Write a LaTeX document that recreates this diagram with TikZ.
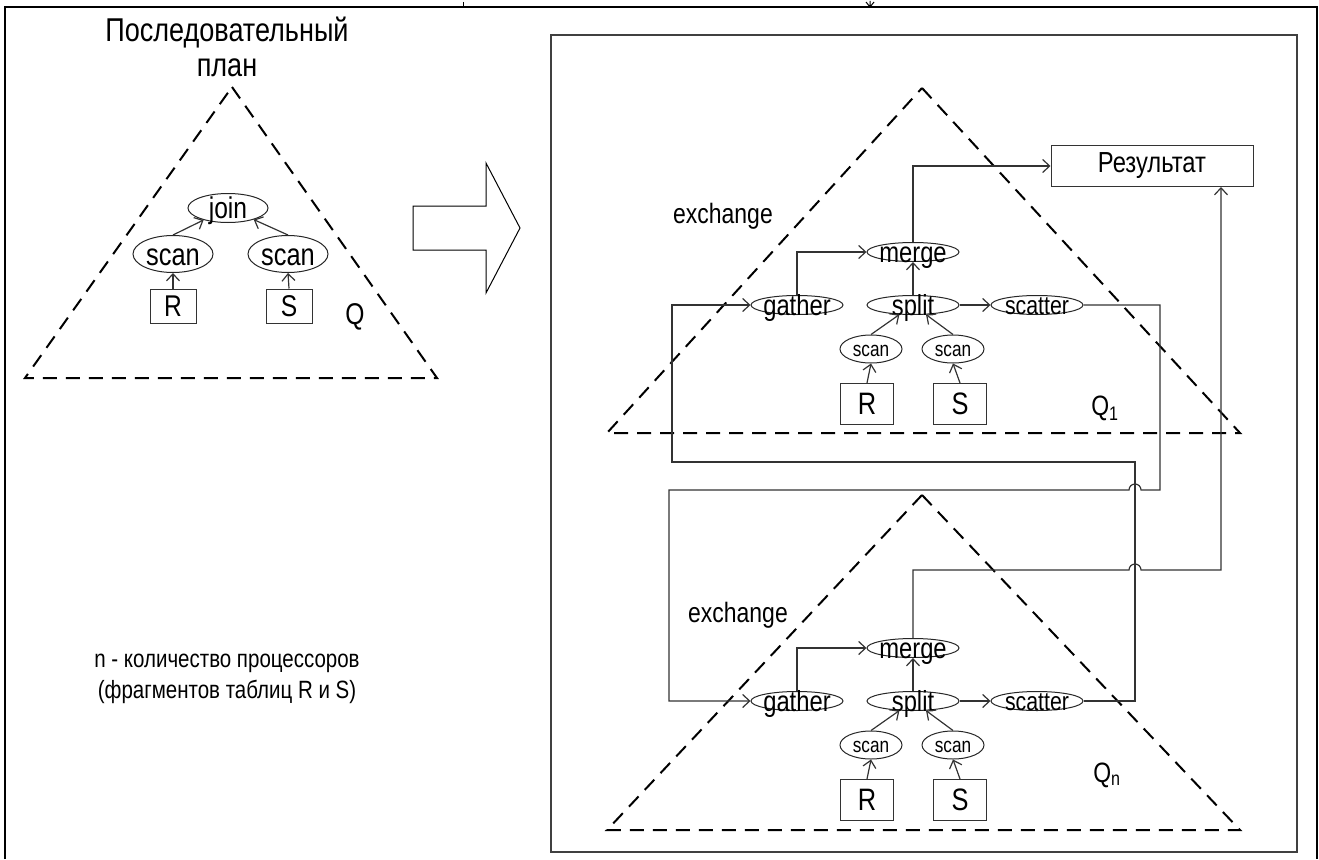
\documentclass[tikz,border=0pt]{standalone}
\usepackage{fontspec}
\setmainfont{Liberation Sans}[FakeStretch=0.82]
\usetikzlibrary{shapes.geometric,arrows.meta}
\newcommand\fs[1]{\fontsize{#1}{#1}\selectfont}
\newcommand\tx[1]{\smash{\makebox[0pt]{\raisebox{-0.36em}{#1}}}}
\begin{document}
\begin{tikzpicture}[x=1pt,y=-1pt,
  ell/.style={ellipse,draw=black!85,line width=1pt,inner sep=0pt},
  bigel/.style={ell,minimum width=92pt,minimum height=19pt,font=\fs{29}},
  scel/.style={ell,minimum width=62pt,minimum height=28pt,font=\fs{21}},
  lel/.style={ell,minimum width=80pt,minimum height=37pt,font=\fs{31}},
  bx/.style={draw=black!80,line width=1pt,inner sep=0pt},
  wire/.style={draw=black!80,line width=1.2pt},
  arr/.style={-{Straight Barb[length=7pt,width=13pt,line width=1.2pt]}},
  tri/.style={dash pattern=on 14pt off 9pt,line width=2pt},
  lbl/.style={inner sep=0pt}]
\useasboundingbox (0,0) rectangle (1319,859);
% outer frame
\draw[line width=2.2pt] (5,859) -- (5,7) -- (1317,7) -- (1317,859);
\draw[line width=1pt] (463,2) -- (463,7);
\draw[line width=1pt] (866,2) -- (870,7) -- (874,2) (870,1) -- (870,7);
% right box
\draw[line width=1.6pt,black!75] (551,35) rectangle (1297,852);

% ---------- left panel ----------
\node[lbl,font=\fs{33}] (title1) at (227,33) {Последовательный};
\node[lbl,font=\fs{33}] (title2) at (227,68) {план};
\draw[tri] (232,87) -- (437,378) -- (25,378) -- cycle;
\node[ell,minimum width=80pt,minimum height=29pt,font=\fs{30}] (join) at (228,208) {\tx{join}};
\node[lel] (lscanL) at (173,254) {\tx{scan}};
\node[lel] (lscanR) at (288,254) {\tx{scan}};
\node[bx,minimum width=46pt,minimum height=34pt,font=\fs{30}] (lR) at (173,306) {R};
\node[bx,minimum width=46pt,minimum height=34pt,font=\fs{30}] (lS) at (289,306) {S};
\node[lbl,font=\fs{30}] (lQ) at (355,317) {Q};
\draw[wire,arr] (lR.north) -- (lscanL.south);
\draw[wire,arr] (lS.north) -- (lscanR.south);
\draw[wire,arr] (lscanL.north) -- (join);
\draw[wire,arr] (lscanR.north) -- (join);

\node[lbl,font=\fs{25}] (note1) at (227,663) {n - количество процессоров};
\node[lbl,font=\fs{25}] (note2) at (227,692) {(фрагментов таблиц R и S)};

% big arrow
\draw[line width=1pt] (413,206) -- (486,206) -- (486,163) -- (520,228) -- (486,293) -- (486,250) -- (413,250) -- cycle;

% ---------- right panel ----------
\node[bx,minimum width=202pt,minimum height=41pt,font=\fs{29}] (res) at (1152,166) {Результат};

\draw[tri] (922,88) -- (1240,433) -- (607,433) -- cycle;
\draw[tri] (922,495) -- (1240,830) -- (607,830) -- cycle;

\foreach \s/\d in {1/0,n/396}{
  \node[bigel] (merge\s) at (913,{252+\d}) {\tx{merge}};
  \node[bigel] (gather\s) at (797,{305+\d}) {\tx{gather}};
  \node[bigel] (split\s) at (913,{305+\d}) {\tx{split}};
  \node[bigel,font=\fs{26}] (scatter\s) at (1037,{305+\d}) {\tx{scatter}};
  \node[scel] (scanL\s) at (871,{349+\d}) {\tx{scan}};
  \node[scel] (scanR\s) at (953,{349+\d}) {\tx{scan}};
  \node[bx,minimum width=53pt,minimum height=41pt,font=\fs{31}] (R\s) at (867,{404+\d}) {R};
  \node[bx,minimum width=53pt,minimum height=41pt,font=\fs{31}] (S\s) at (960,{404+\d}) {S};
  \draw[wire,arr] (R\s.north) -- (scanL\s.south);
  \draw[wire,arr] (S\s.north) -- (scanR\s.south);
  \draw[wire,arr] (scanL\s.north) -- (split\s);
  \draw[wire,arr] (scanR\s.north) -- (split\s);
  \draw[wire,arr] (split\s) -- (merge\s);
  \draw[wire,arr] (split\s) -- (scatter\s);
  \draw[wire,arr] (gather\s.north) |- (merge\s.west);
}
\node[lbl,font=\fs{28}] (ex1) at (723,216) {exchange};
\node[lbl,font=\fs{28}] (exn) at (738,615) {exchange};
\node[lbl,font=\fs{28}] (Q1) at (1105,408) {Q\textsubscript{1}};
\node[lbl,font=\fs{28}] (Qn) at (1107,775) {Q\textsubscript{n}};

% wires between fragments
\draw[wire,arr] (merge1.north) |- (res.west);
\coordinate (dR) at (1221,570);
\draw[wire,arr] (mergen.north) -- (913,570) -- (1129,570)
  arc[start angle=180,end angle=360,radius=6] -- (dR) -- (dR |- res.south);
\draw[wire,arr] (scatter1.east) -- (1160,305) -- (1160,490) -- (1141,490)
  arc[start angle=0,end angle=-180,radius=6] -- (669,490) -- (669,701) -- (gathern.west);
\draw[wire,arr] (scattern.east) -- (1135,701) -- (1135,462) -- (672,462) -- (672,305) -- (gather1.west);
\end{tikzpicture}
\end{document}
